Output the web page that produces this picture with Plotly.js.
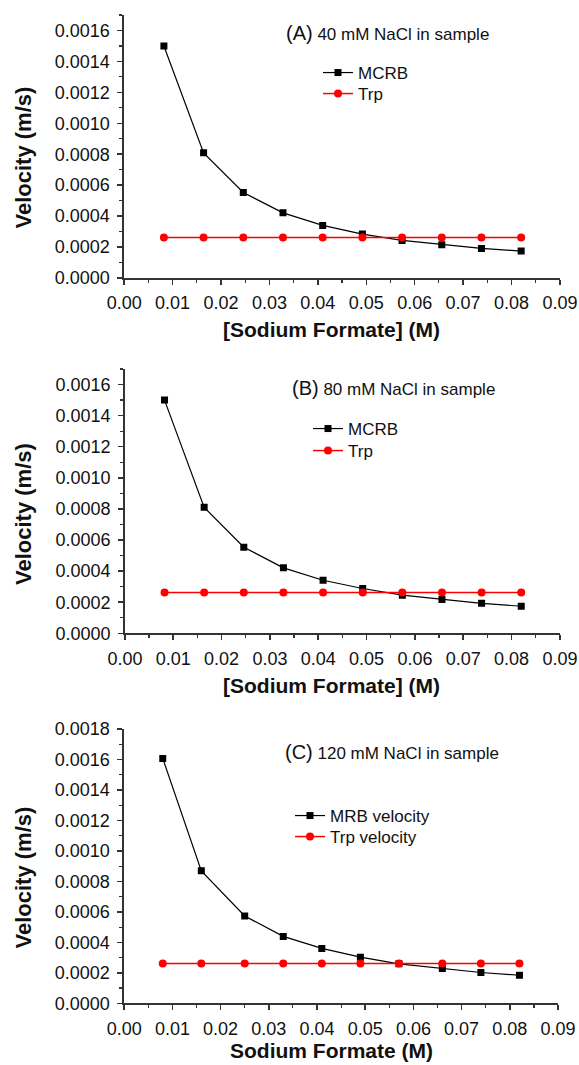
<!DOCTYPE html>
<html>
<head>
<meta charset="utf-8">
<script src="https://cdn.plot.ly/plotly-3.0.1.min.js"></script>
<style>html,body{margin:0;padding:0;background:#fff;}#chart{width:579px;height:1065px;}</style>
</head>
<body>
<div id="chart"></div>
<script>
// ---- data ----
const xAB = [0.0082, 0.0164, 0.0246, 0.0328, 0.041, 0.0492, 0.0574, 0.0656, 0.0738, 0.082];
const xC  = [0.008, 0.016, 0.025, 0.033, 0.041, 0.049, 0.057, 0.066, 0.074, 0.082];
const mcrbA = [0.00150, 0.000809, 0.000553, 0.000421, 0.000340, 0.000284, 0.000243, 0.000215, 0.000191, 0.000174];
const trpA  = [0.000262, 0.000262, 0.000262, 0.000262, 0.000262, 0.000262, 0.000262, 0.000262, 0.000262, 0.000262];
const mcrbB = [0.00150, 0.000810, 0.000554, 0.000421, 0.000341, 0.000288, 0.000245, 0.000217, 0.000193, 0.000174];
const trpB  = [0.000262, 0.000262, 0.000262, 0.000262, 0.000262, 0.000262, 0.000262, 0.000262, 0.000262, 0.000262];
const mrbC  = [0.001607, 0.000869, 0.000573, 0.000439, 0.000360, 0.000303, 0.000259, 0.000228, 0.000202, 0.000184];
const trpC  = [0.000261, 0.000261, 0.000261, 0.000261, 0.000261, 0.000261, 0.000261, 0.000261, 0.000261, 0.000261];
const namesAB = ["MCRB", "Trp"];
const namesC = ["MRB velocity", "Trp velocity"];
const panelTitles = ["(A)", "(B)", "(C)"];
const panelSubs = ["40 mM NaCl in sample", "80 mM NaCl in sample", "120 mM NaCl in sample"];
const xTitles = ["[Sodium Formate] (M)", "[Sodium Formate] (M)", "Sodium Formate (M)"];
const yTitle = "Velocity (m/s)";

const FONT = "Liberation Sans, Arial, Helvetica, sans-serif";
const H = 1065, W = 579;

function blackTrace(x, y, name, xa, ya, leg) {
  return {x: x, y: y, name: name, xaxis: xa, yaxis: ya, legend: leg, type: 'scatter', mode: 'lines+markers',
    line: {color: '#000', width: 1.2}, marker: {symbol: 'square', size: 7, color: '#000'}};
}
function redTrace(x, y, name, xa, ya, leg) {
  return {x: x, y: y, name: name, xaxis: xa, yaxis: ya, legend: leg, type: 'scatter', mode: 'lines+markers',
    line: {color: '#ff0000', width: 1.5}, marker: {symbol: 'circle', size: 8, color: '#ff0000'}};
}

const data = [
  blackTrace(xAB, mcrbA, namesAB[0], 'x', 'y', 'legend'),
  redTrace(xAB, trpA, namesAB[1], 'x', 'y', 'legend2'),
  blackTrace(xAB, mcrbB, namesAB[0], 'x2', 'y2', 'legend3'),
  redTrace(xAB, trpB, namesAB[1], 'x2', 'y2', 'legend4'),
  blackTrace(xC, mrbC, namesC[0], 'x3', 'y3', 'legend5'),
  redTrace(xC, trpC, namesC[1], 'x3', 'y3', 'legend6')
];

function xaxis(anchor, l, r) {
  return {anchor: anchor, domain: [l / W, r / W], range: [0, 0.09], dtick: 0.01, tick0: 0,
    tickformat: '.2f', ticks: 'outside', ticklen: 5, tickwidth: 1.5, tickcolor: '#333',
    ticklabelstandoff: 3,
    minor: {ticks: 'outside', dtick: 0.005, ticklen: 3, tickwidth: 1.2, tickcolor: '#333'},
    showline: true, linecolor: '#333', linewidth: 1.8, showgrid: false, zeroline: false,
    tickfont: {family: FONT, size: 18, color: '#111'}};
}
function yaxis(anchor, domTop, domBot, top) {
  return {anchor: anchor, domain: [1 - domBot / H, 1 - domTop / H], range: [0, top], dtick: 0.0002, tick0: 0,
    tickformat: '.4f', ticks: 'outside', ticklen: 5, tickwidth: 1.5, tickcolor: '#333',
    ticklabelstandoff: 4,
    minor: {ticks: 'outside', dtick: 0.0001, ticklen: 3, tickwidth: 1.2, tickcolor: '#333'},
    showline: true, linecolor: '#333', linewidth: 1.8, showgrid: false, zeroline: false,
    tickfont: {family: FONT, size: 18, color: '#111'}};
}
function legend(x, y) {
  return {x: x / W, y: 1 - y / H, xanchor: 'left', yanchor: 'middle', bgcolor: 'rgba(0,0,0,0)',
    font: {family: FONT, size: 17, color: '#111'}, tracegroupgap: 0};
}
function ann(i, x, y) {
  return {xref: 'paper', yref: 'paper', x: x / W, y: 1 - y / H, xanchor: 'left', yanchor: 'middle',
    showarrow: false, font: {family: FONT, size: 17, color: '#111'},
    text: '<span style="font-size:20px">' + panelTitles[i] + '</span> ' + panelSubs[i]};
}
function xTitleAnn(i, x, y) {
  return {xref: 'paper', yref: 'paper', x: x / W, y: 1 - y / H, xanchor: 'center', yanchor: 'middle',
    showarrow: false, font: {family: FONT, size: 21, color: '#111', weight: 'bold'}, text: xTitles[i]};
}
function yTitleAnn(x, y) {
  return {xref: 'paper', yref: 'paper', x: x / W, y: 1 - y / H, xanchor: 'center', yanchor: 'middle',
    textangle: -90, showarrow: false, font: {family: FONT, size: 22, color: '#111', weight: 'bold'}, text: yTitle};
}

const layout = {
  width: W, height: H, margin: {l: 0, r: 0, t: 0, b: 0},
  paper_bgcolor: '#fff', plot_bgcolor: '#fff', showlegend: true,
  font: {family: FONT, color: '#111'},
  xaxis: xaxis('y', 124.2, 559.9),
  yaxis: yaxis('x', 15, 278, 0.0017),
  xaxis2: xaxis('y2', 124.9, 559.9),
  yaxis2: yaxis('x2', 369, 633.3, 0.0017),
  xaxis3: xaxis('y3', 124.2, 558),
  yaxis3: yaxis('x3', 729, 1003.3, 0.0018),
  legend: legend(318, 73),
  legend2: legend(318, 94),
  legend3: legend(308, 429),
  legend4: legend(308, 451),
  legend5: legend(290, 816),
  legend6: legend(290, 837),
  annotations: [
    ann(0, 284, 33), ann(1, 290, 388), ann(2, 283, 752),
    xTitleAnn(0, 331, 329), xTitleAnn(1, 331, 685), xTitleAnn(2, 331, 1050),
    yTitleAnn(23, 157.5), yTitleAnn(23, 514), yTitleAnn(23, 877.5)
  ]
};

Plotly.newPlot('chart', data, layout, {displayModeBar: false, staticPlot: true});
</script>
</body>
</html>
